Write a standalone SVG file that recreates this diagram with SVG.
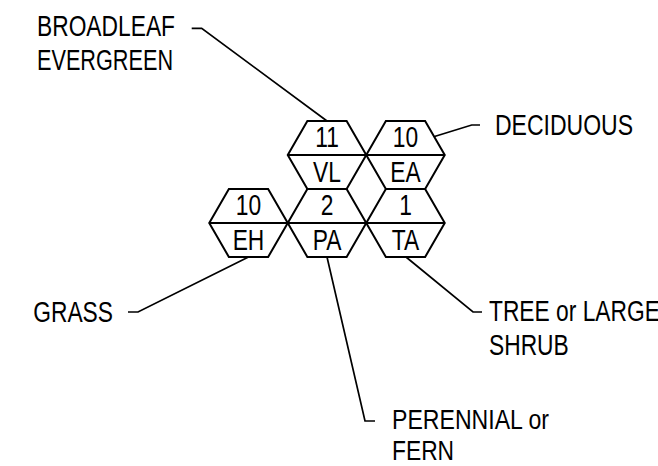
<svg xmlns="http://www.w3.org/2000/svg" xmlns:xlink="http://www.w3.org/1999/xlink" width="658" height="466" viewBox="0 0 658 466">
<style>
.hex{fill:#fff;stroke:#000;stroke-width:2;stroke-linejoin:miter}
.div{stroke:#000;stroke-width:2}
.lead{fill:none;stroke:#000;stroke-width:1.7;stroke-linejoin:miter}
text{font-family:"Liberation Sans",Arial,sans-serif;font-size:30px;fill:#000}
.s{font-size:27px}
.c{text-anchor:middle}
.e{text-anchor:end}
</style>
<defs>
<g id="hex">
<polygon class="hex" points="-39.25,0 -19.625,-34 19.625,-34 39.25,0 19.625,34 -19.625,34"/>
<line class="div" x1="-39.25" y1="0" x2="39.25" y2="0"/>
</g>
</defs>
<rect width="658" height="466" fill="#fff"/>
<g id="connectors">
<polyline class="lead" points="191.7,28.3 201.7,28.3 327,121"/>
<polyline class="lead" points="480,125 471.7,125 434.5,136.5"/>
<polyline class="lead" points="128,312 138,312 248.5,257"/>
<polyline class="lead" points="327,257 365,421 375,421"/>
<polyline class="lead" points="406,257 473,312 482,312"/>
</g>
<g id="node-VL" transform="translate(327,155)">
<use xlink:href="#hex"/>
<text class="c" transform="translate(0,-8) scale(0.76,1)">11</text>
<text class="c" transform="translate(0,27) scale(0.76,1)">VL</text>
</g>
<g id="node-EA" transform="translate(405.5,155)">
<use xlink:href="#hex"/>
<text class="c" transform="translate(0,-8) scale(0.76,1)">10</text>
<text class="c" transform="translate(0,27) scale(0.76,1)">EA</text>
</g>
<g id="node-EH" transform="translate(248.5,223)">
<use xlink:href="#hex"/>
<text class="c" transform="translate(0,-8) scale(0.76,1)">10</text>
<text class="c" transform="translate(0,27) scale(0.76,1)">EH</text>
</g>
<g id="node-PA" transform="translate(327,223)">
<use xlink:href="#hex"/>
<text class="c" transform="translate(0,-8) scale(0.76,1)">2</text>
<text class="c" transform="translate(0,27) scale(0.76,1)">PA</text>
</g>
<g id="node-TA" transform="translate(405.5,223)">
<use xlink:href="#hex"/>
<text class="c" transform="translate(0,-8) scale(0.76,1)">1</text>
<text class="c" transform="translate(0,27) scale(0.76,1)">TA</text>
</g>
<g id="labels">
<text transform="translate(37,36) scale(0.76,1)">BROADLEAF</text>
<text transform="translate(37,70) scale(0.76,1)" textLength="179" lengthAdjust="spacingAndGlyphs">EVERGREEN</text>
<text transform="translate(495,135) scale(0.76,1)" textLength="181.6" lengthAdjust="spacingAndGlyphs">DECIDUOUS</text>
<text class="e" transform="translate(113,322) scale(0.76,1)">GRASS</text>
<text transform="translate(489,321) scale(0.76,1)">TREE or LARGE</text>
<text transform="translate(489,355) scale(0.76,1)">SHRUB</text>
<text class="s" transform="translate(392,429) scale(0.845,1)" textLength="185.8" lengthAdjust="spacingAndGlyphs">PERENNIAL or</text>
<text class="s" transform="translate(392,460) scale(0.845,1)">FERN</text>
</g>
</svg>
